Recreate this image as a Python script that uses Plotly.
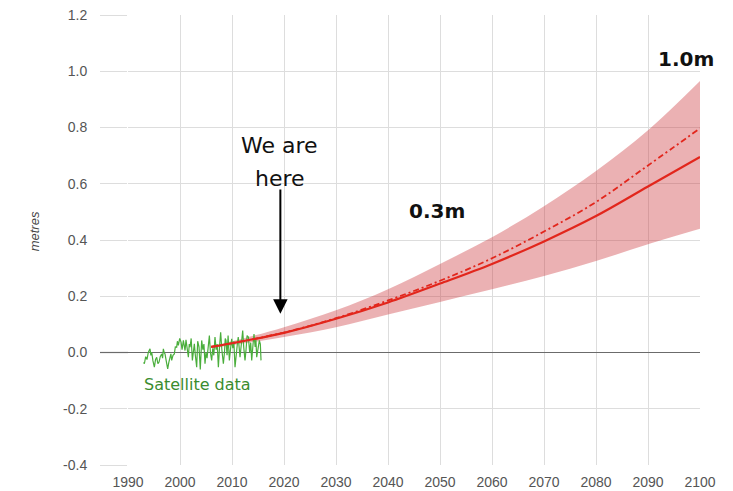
import plotly.graph_objects as go

# ---- data ----
proj_years = [2006, 2010, 2020, 2030, 2040, 2050, 2060, 2070, 2080, 2090, 2100]
proj_central = [0.020, 0.033, 0.070, 0.120, 0.178, 0.245, 0.315, 0.395, 0.485, 0.590, 0.695]
proj_high = [0.020, 0.033, 0.071, 0.122, 0.185, 0.255, 0.335, 0.430, 0.535, 0.665, 0.797]
band_upper = [0.024, 0.040, 0.090, 0.150, 0.225, 0.315, 0.410, 0.520, 0.645, 0.790, 0.965]
band_lower = [0.016, 0.026, 0.055, 0.090, 0.135, 0.180, 0.225, 0.272, 0.325, 0.385, 0.440]

sat_years = [1993.00, 1993.15, 1993.40, 1993.65, 1993.90, 1994.23, 1994.40, 1994.56, 1994.80, 1995.07,
             1995.30, 1995.52, 1995.75, 1995.97, 1996.20, 1996.48, 1996.65, 1996.80, 1996.95, 1997.12,
             1997.35, 1997.63, 1997.85, 1998.08, 1998.25, 1998.40, 1998.65, 1998.91, 1999.10, 1999.36,
             1999.50, 1999.68, 1999.95, 2000.20, 2000.40, 2000.65, 2000.80, 2000.97, 2001.15, 2001.29,
             2001.45, 2001.61, 2001.78, 2001.93, 2002.15, 2002.38, 2002.55, 2002.76, 2002.95, 2003.21,
             2003.40, 2003.66, 2003.90, 2004.17, 2004.40, 2004.60, 2004.81, 2005.00, 2005.20, 2005.45,
             2005.65, 2005.85, 2006.09, 2006.30, 2006.50, 2006.73, 2006.95, 2007.15, 2007.38, 2007.60,
             2007.82, 2008.05, 2008.34, 2008.55, 2008.70, 2008.85, 2009.05, 2009.25, 2009.49, 2009.70,
             2009.94, 2010.15, 2010.35, 2010.58, 2010.80, 2011.03, 2011.20, 2011.40, 2011.54, 2011.80,
             2012.06, 2012.25, 2012.50, 2012.70, 2012.90, 2013.15, 2013.40, 2013.60, 2013.79, 2014.00,
             2014.23, 2014.45, 2014.60, 2014.75, 2015.00, 2015.26, 2015.45, 2015.58]
sat_values = [-0.035, -0.040, -0.015, -0.025, 0.000, 0.013, -0.010, 0.001, -0.030, -0.052,
              -0.025, -0.017, -0.040, -0.034, -0.015, -0.005, -0.020, 0.013, 0.000, -0.005,
              -0.030, -0.058, -0.035, -0.017, -0.005, -0.028, -0.010, -0.005, 0.020, 0.019,
              0.040, 0.025, 0.050, 0.037, 0.010, 0.043, 0.020, 0.007, 0.045, 0.031,
              0.005, -0.017, 0.030, 0.019, 0.050, -0.028, 0.010, 0.031, -0.010, -0.052,
              0.040, 0.019, -0.060, 0.043, 0.010, 0.030, -0.040, 0.000, -0.020, 0.031,
              0.060, 0.000, -0.028, 0.015, -0.010, 0.055, 0.010, 0.030, -0.052, 0.020,
              0.072, 0.010, -0.040, 0.000, 0.050, 0.043, -0.010, 0.060, -0.028, 0.010,
              0.049, 0.015, 0.040, -0.052, 0.000, 0.031, 0.055, -0.005, -0.017, 0.030,
              0.078, 0.020, -0.028, 0.010, 0.060, 0.055, 0.000, 0.035, -0.028, 0.020,
              0.066, 0.020, 0.045, -0.017, 0.010, 0.043, 0.030, -0.028]

x_ticks = [1990, 2000, 2010, 2020, 2030, 2040, 2050, 2060, 2070, 2080, 2090, 2100]
y_ticks = [-0.4, -0.2, 0.0, 0.2, 0.4, 0.6, 0.8, 1.0, 1.2]
y_range = [-0.4, 1.2]

RED = "#e2261c"
BAND = "rgba(205,60,65,0.40)"
GREEN = "#4aae3c"
TEXT_GREEN = "#3a8c2f"
ZERO = "#6b6b6b"

fig = go.Figure()

fig.add_trace(go.Scatter(x=proj_years, y=band_lower, mode="lines", line=dict(width=0, shape="spline"),
                         hoverinfo="skip", showlegend=False))
fig.add_trace(go.Scatter(x=proj_years, y=band_upper, mode="lines", line=dict(width=0, shape="spline"),
                         fill="tonexty", fillcolor=BAND, hoverinfo="skip", showlegend=False))
fig.add_trace(go.Scatter(x=sat_years, y=sat_values, mode="lines",
                         line=dict(color=GREEN, width=1.2), showlegend=False))
fig.add_trace(go.Scatter(x=proj_years, y=proj_high, mode="lines",
                         line=dict(color=RED, width=1.8, dash="6px,3px,2px,3px", shape="spline"),
                         showlegend=False))
fig.add_trace(go.Scatter(x=proj_years, y=proj_central, mode="lines",
                         line=dict(color=RED, width=2.2, shape="spline"), showlegend=False))

# extension of the zero line to the left of the plot area (paper coords, not clipped)
zero_frac = (0 - y_range[0]) / (y_range[1] - y_range[0])
fig.add_shape(type="line", xref="paper", yref="paper", x0=-0.049, x1=0, y0=zero_frac, y1=zero_frac,
              line=dict(color=ZERO, width=1.2), layer="above")

ann_font = dict(family="DejaVu Sans", size=22, color="#111111")
fig.add_annotation(x=2019.2, y=0.735, xref="x", yref="y", text="We are", showarrow=False,
                   font=ann_font)
fig.add_annotation(x=2019.2, y=0.62, xref="x", yref="y", text="here", showarrow=False,
                   font=ann_font)
fig.add_annotation(x=2019.3, y=0.138, xref="x", yref="y", ax=2019.3, ay=0.585,
                   axref="x", ayref="y", text="", showarrow=True,
                   arrowhead=2, arrowwidth=2, arrowsize=1.45, arrowcolor="#000000")
fig.add_annotation(x=2049.5, y=0.502, xref="x", yref="y", text="<b>0.3m</b>", showarrow=False,
                   font=dict(family="DejaVu Sans", size=20, color="#111111"))
fig.add_annotation(x=2097.3, y=1.045, xref="x", yref="y", text="<b>1.0m</b>", showarrow=False,
                   font=dict(family="DejaVu Sans", size=20, color="#111111"))
fig.add_annotation(x=2003.4, y=-0.114, xref="x", yref="y", text="Satellite data", showarrow=False,
                   font=dict(family="DejaVu Sans", size=16, color=TEXT_GREEN))
fig.add_annotation(x=-0.163, y=0.43, xref="paper", yref="y", xanchor="center", yanchor="middle",
                   text="<i>metres</i>", showarrow=False,
                   textangle=-90, font=dict(family="Liberation Sans", size=13, color="#444444"))

fig.update_xaxes(range=[1990, 2100], tickvals=x_ticks, ticktext=[str(v) for v in x_ticks],
                 showgrid=True, gridcolor="#dddddd", gridwidth=1, zeroline=False, showline=False,
                 ticks="outside", ticklen=4, tickcolor="rgba(255,255,255,0)", automargin=False,
                 tickfont=dict(family="Liberation Sans", size=14, color="#555555"))
fig.update_yaxes(range=y_range, tickvals=y_ticks, ticktext=[f"{v:.1f}" for v in y_ticks],
                 showgrid=True, gridcolor="#dddddd", gridwidth=1,
                 zeroline=True, zerolinecolor=ZERO, zerolinewidth=1.2, showline=False,
                 ticks="outside", ticklen=27, tickcolor="#dddddd", tickwidth=1,
                 ticklabelstandoff=10, automargin=False,
                 tickfont=dict(family="Liberation Sans", size=14, color="#555555"))

fig.update_layout(width=733, height=491, margin=dict(l=128, r=33, t=15, b=26, autoexpand=False),
                  plot_bgcolor="white", paper_bgcolor="white", showlegend=False)

fig.write_html("out.html", config={"displayModeBar": False},
               post_script="document.body.style.margin='0';")
